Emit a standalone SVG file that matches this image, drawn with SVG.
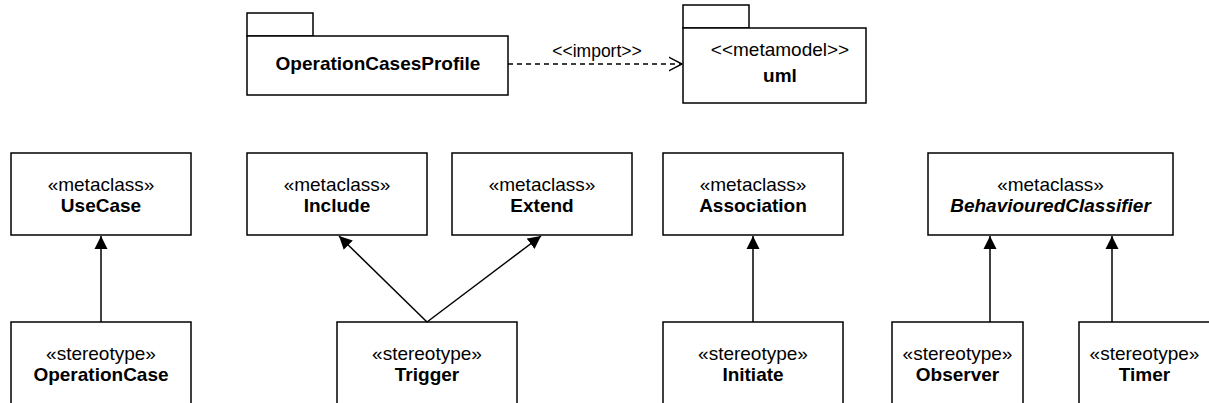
<svg xmlns="http://www.w3.org/2000/svg" width="1209" height="403" viewBox="0 0 1209 403">
<style>
.box{fill:#fff;stroke:#000;stroke-width:1.5}
.t{font-family:"Liberation Sans",Arial,Helvetica,sans-serif;font-size:19px;text-anchor:middle;fill:#000}
.b{font-weight:bold}
.bi{font-weight:bold;font-style:italic}
.lbl{font-size:17.5px}
.edge{fill:none;stroke:#000;stroke-width:1.5}
</style>
<defs>
<marker id="tri" markerUnits="userSpaceOnUse" markerWidth="14" markerHeight="14" refX="13" refY="6.5" orient="auto" viewBox="0 0 14 13">
<path d="M0,0 L13,6.5 L0,13 z" fill="#000"/>
</marker>
<marker id="open" markerUnits="userSpaceOnUse" markerWidth="16" markerHeight="16" refX="13.5" refY="7" orient="auto" viewBox="0 0 16 14">
<path d="M0,0 L13.5,7 L0,14" fill="none" stroke="#000" stroke-width="1.5"/>
</marker>
</defs>
<rect width="1209" height="403" fill="#fff"/>

<g id="pkg-profile">
<rect class="box" x="247" y="13" width="66" height="23"/>
<rect class="box" x="247" y="36" width="261" height="59"/>
<text class="t b" x="378" y="70">OperationCasesProfile</text>
</g>

<g id="pkg-uml">
<rect class="box" x="683" y="5" width="66" height="23"/>
<rect class="box" x="683" y="28" width="183" height="75"/>
<text class="t" x="780" y="56">&lt;&lt;metamodel&gt;&gt;</text>
<text class="t b" x="780" y="82">uml</text>
</g>

<g id="usecase">
<rect class="box" x="11" y="153" width="180" height="82"/>
<text class="t" x="101" y="191">«metaclass»</text>
<text class="t b" x="101" y="212">UseCase</text>
</g>

<g id="include">
<rect class="box" x="247" y="153" width="180" height="82"/>
<text class="t" x="337" y="191">«metaclass»</text>
<text class="t b" x="337" y="212">Include</text>
</g>

<g id="extend">
<rect class="box" x="452" y="153" width="180" height="82"/>
<text class="t" x="542" y="191">«metaclass»</text>
<text class="t b" x="542" y="212">Extend</text>
</g>

<g id="association">
<rect class="box" x="663" y="153" width="180" height="82"/>
<text class="t" x="753" y="191">«metaclass»</text>
<text class="t b" x="753" y="212">Association</text>
</g>

<g id="behaviouredclassifier">
<rect class="box" x="928" y="153" width="245" height="82"/>
<text class="t" x="1050.5" y="191">«metaclass»</text>
<text class="t bi" x="1050.5" y="212">BehaviouredClassifier</text>
</g>

<g id="operationcase">
<rect class="box" x="11" y="322" width="180" height="82"/>
<text class="t" x="101" y="360">«stereotype»</text>
<text class="t b" x="101" y="381">OperationCase</text>
</g>

<g id="trigger">
<rect class="box" x="337" y="322" width="180" height="82"/>
<text class="t" x="427" y="360">«stereotype»</text>
<text class="t b" x="427" y="381">Trigger</text>
</g>

<g id="initiate">
<rect class="box" x="663" y="322" width="180" height="82"/>
<text class="t" x="753" y="360">«stereotype»</text>
<text class="t b" x="753" y="381">Initiate</text>
</g>

<g id="observer">
<rect class="box" x="892" y="322" width="131" height="82"/>
<text class="t" x="957.5" y="360">«stereotype»</text>
<text class="t b" x="957.5" y="381">Observer</text>
</g>

<g id="timer">
<rect class="box" x="1079" y="322" width="131" height="82"/>
<text class="t" x="1144.5" y="360">«stereotype»</text>
<text class="t b" x="1144.5" y="381">Timer</text>
</g>

<g id="connectors">
<line class="edge" x1="508" y1="64" x2="682" y2="64" stroke-dasharray="5 4" marker-end="url(#open)"/>
<text class="t lbl" x="597" y="57">&lt;&lt;import&gt;&gt;</text>
<line class="edge" x1="101" y1="322" x2="101" y2="236" marker-end="url(#tri)"/>
<line class="edge" x1="427" y1="322" x2="339" y2="236" marker-end="url(#tri)"/>
<line class="edge" x1="427" y1="322" x2="541" y2="236" marker-end="url(#tri)"/>
<line class="edge" x1="753" y1="322" x2="753" y2="236" marker-end="url(#tri)"/>
<line class="edge" x1="990" y1="322" x2="990" y2="236" marker-end="url(#tri)"/>
<line class="edge" x1="1112" y1="322" x2="1112" y2="236" marker-end="url(#tri)"/>
</g>
</svg>
